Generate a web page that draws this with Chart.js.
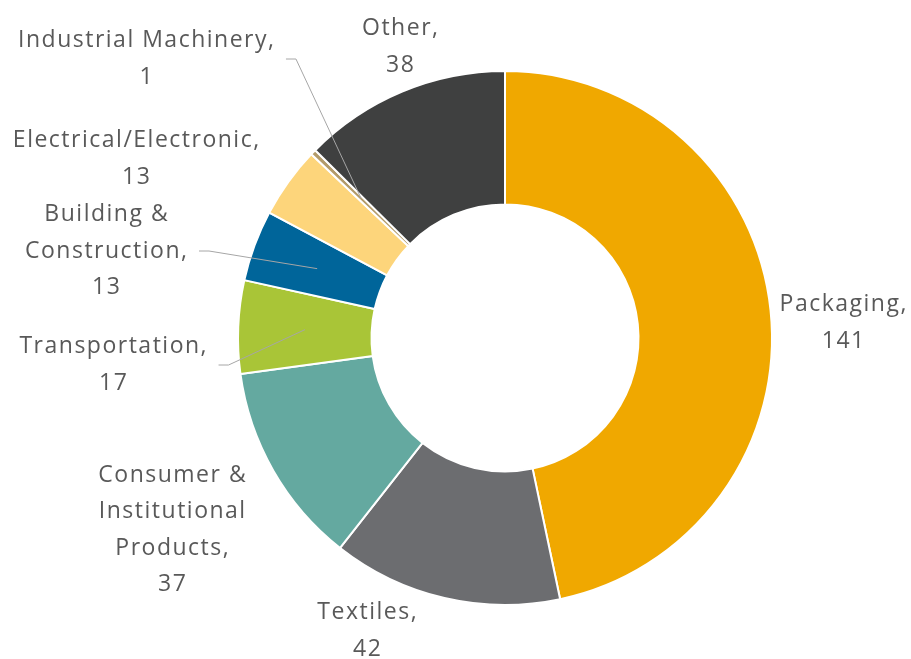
<!DOCTYPE html>
<html>
<head>
<meta charset="utf-8">
<title>Market volume by end use</title>
<script src="https://cdn.jsdelivr.net/npm/chart.js@4.4.1/dist/chart.umd.min.js"></script>
<style>
    html, body { margin: 0; padding: 0; background: #ffffff; }
    #wrap { width: 911px; height: 659px; }
</style>
</head>
<body>
<div id="wrap"><canvas id="myChart" width="911" height="659"></canvas></div>
<script>
// Dados do gráfico
const categories = ['Packaging', 'Textiles', 'Consumer & Institutional Products', 'Transportation',
    'Building & Construction', 'Electrical/Electronic', 'Industrial Machinery', 'Other'];
const values = [141, 42, 37, 17, 13, 13, 1, 38];

// Rótulos como aparecem (quebras de linha)
const labelLines = [
    ['Packaging,'],
    ['Textiles,'],
    ['Consumer &', 'Institutional', 'Products,'],
    ['Transportation,'],
    ['Building &', 'Construction,'],
    ['Electrical/Electronic,'],
    ['Industrial Machinery,'],
    ['Other,']
];

const colors = ['#F0A800', '#6C6D70', '#64A9A0', '#A9C537', '#00659A', '#FDD57B', '#B39B6A', '#3F4040'];

// Deslocamento do centro do rótulo em relação ao centro do gráfico
const labelOffsets = [[338, -15], [-138, 293], [-333, 192], [-392, 27], [-399, -87], [-369, -179], [-359, -279], [-105, -291]];
const withLeader = [false, false, false, true, true, false, true, false];

const labelPlugin = {
    id: 'outsideLabels',
    afterDatasetsDraw(chart) {
        const ctx = chart.ctx;
        const meta = chart.getDatasetMeta(0);
        const lineH = 36.5;
        const spacing = 1.5;
        ctx.save();
        ctx.font = '23px "Open Sans", Lato, sans-serif';
        ctx.letterSpacing = spacing + 'px';
        ctx.fillStyle = '#595959';
        ctx.textAlign = 'center';
        ctx.textBaseline = 'middle';
        meta.data.forEach((arc, i) => {
            const lines = labelLines[i].concat([String(values[i])]);
            const cx = arc.x + labelOffsets[i][0];
            const cy = arc.y + labelOffsets[i][1];
            const top = cy - (lines.length - 1) * lineH / 2;
            let maxW = 0;
            lines.forEach((t, k) => {
                ctx.fillText(t, cx + spacing / 2, top + k * lineH);
                maxW = Math.max(maxW, ctx.measureText(t).width - spacing);
            });
            if (withLeader[i]) {
                // linha de chamada até o meio do segmento
                const mid = (arc.startAngle + arc.endAngle) / 2;
                const r = (arc.innerRadius + arc.outerRadius) / 2;
                const ex = arc.x + Math.cos(mid) * r;
                const ey = arc.y + Math.sin(mid) * r;
                const sx = cx + maxW / 2 + 12;
                ctx.strokeStyle = '#A6A6A6';
                ctx.lineWidth = 1;
                ctx.beginPath();
                ctx.moveTo(sx, cy);
                ctx.lineTo(sx + 10, cy);
                ctx.lineTo(ex, ey);
                ctx.stroke();
            }
        });
        ctx.restore();
    }
};

const ctx = document.getElementById('myChart').getContext('2d');
new Chart(ctx, {
    type: 'doughnut',
    data: {
        labels: categories,
        datasets: [{
            data: values,
            backgroundColor: colors,
            borderColor: '#ffffff',
            borderWidth: 2
        }]
    },
    options: {
        responsive: false,
        animation: false,
        cutout: '50%',
        layout: { padding: { left: 237, right: 138, top: 70, bottom: 53 } },
        plugins: {
            legend: { display: false },
            tooltip: { enabled: false }
        }
    },
    plugins: [labelPlugin]
});
</script>
</body>
</html>
